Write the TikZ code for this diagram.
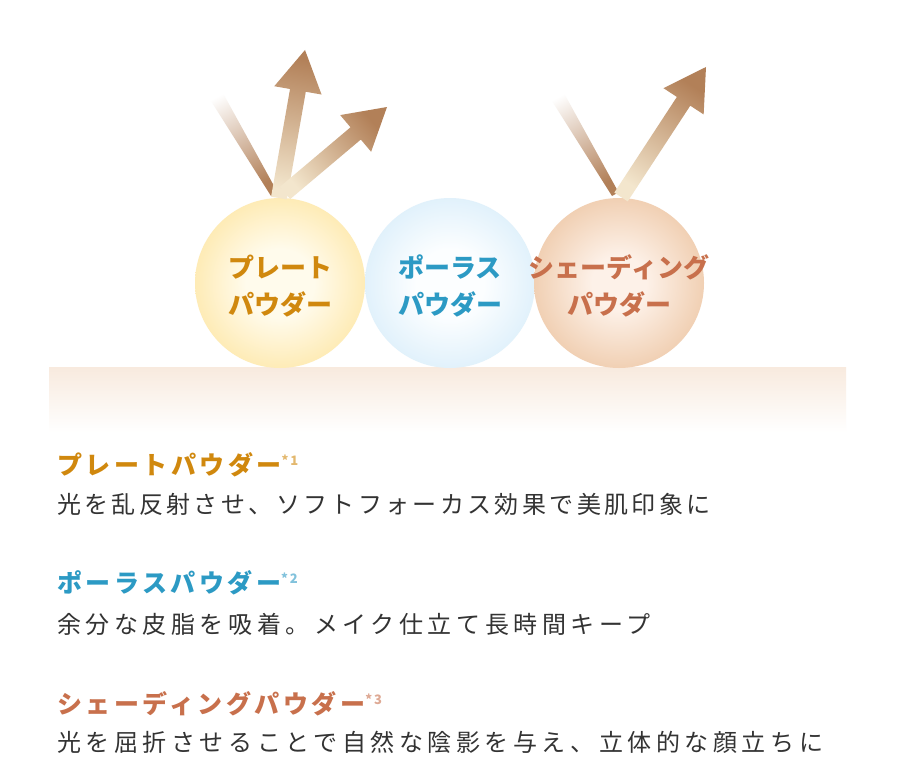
\documentclass[tikz,border=0pt]{standalone}
\usepackage{fontspec}
\setmainfont{Noto Sans CJK JP}
\usetikzlibrary{calc,positioning}
\definecolor{plategold}{RGB}{208,136,14}
\definecolor{poreblue}{RGB}{44,154,196}
\definecolor{shadecopper}{RGB}{200,112,76}
\definecolor{bodytext}{RGB}{51,51,51}
\definecolor{beamdark}{RGB}{178,128,88}
\definecolor{beamlight}{RGB}{243,230,205}
\definecolor{skintone}{RGB}{248,234,222}
% ball colours
\definecolor{plateedge}{RGB}{252,208,114}
\definecolor{platemid}{RGB}{254,230,164}
\definecolor{platecore}{RGB}{255,251,236}
\definecolor{poreedge}{RGB}{194,225,245}
\definecolor{poremid}{RGB}{216,237,250}
\definecolor{porecore}{RGB}{252,254,255}
\definecolor{shadeedge}{RGB}{222,166,120}
\definecolor{shademid}{RGB}{237,198,164}
\definecolor{shadecore}{RGB}{253,241,232}
\pgfdeclareradialshading{plateball}{\pgfpoint{0bp}{0bp}}{color(0bp)=(platecore);color(10bp)=(platecore);color(30bp)=(platemid);color(47bp)=(plateedge);color(50bp)=(plateedge)}
\pgfdeclareradialshading{poreball}{\pgfpoint{0bp}{0bp}}{color(0bp)=(porecore);color(10bp)=(porecore);color(30bp)=(poremid);color(47bp)=(poreedge);color(50bp)=(poreedge)}
\pgfdeclareradialshading{shadeball}{\pgfpoint{0bp}{0bp}}{color(0bp)=(shadecore);color(8bp)=(shadecore);color(30bp)=(shademid);color(47bp)=(shadeedge);color(50bp)=(shadeedge)}
\newcommand\bubblefont{\bfseries\fontsize{26}{37}\selectfont}
\newcommand\headfont{\bfseries\fontsize{25}{28}\selectfont\addfontfeatures{LetterSpace=14}}
\newcommand\bodyfont[1]{\fontsize{24}{28}\selectfont\addfontfeatures{LetterSpace=#1}}
\newcommand\notemark[1]{{\fontsize{13}{13}\selectfont\raisebox{9pt}{#1}}}
% reflected beam: start, tip, shading angle
\newcommand\beamarrow[3]{%
  \coordinate (#1#2base) at ($(#2)!41pt!(#1)$);
  \shade[top color=beamdark,bottom color=beamlight,shading angle=#3]
    ($(#1)!8pt!90:(#2)$) -- ($(#1#2base)!8pt!90:(#2)$) -- ($(#1#2base)!24pt!90:(#2)$)
    -- (#2) -- ($(#1#2base)!24pt!-90:(#2)$) -- ($(#1#2base)!8pt!-90:(#2)$)
    -- ($(#1)!8pt!-90:(#2)$) -- cycle;}
% incoming ray: source, hit point, shading angle
\newcommand\beamray[3]{%
  \shade[top color=white,bottom color=beamdark,shading angle=#3]
    ($(#1)!7.5pt!90:(#2)$) -- ($(#2)!7.5pt!-90:(#1)$) -- (#2) -- ($(#1)!7.5pt!-90:(#2)$) -- cycle;}

\begin{document}
\begin{tikzpicture}[x=1pt,y=-1pt,
    bubbletext/.style={font=\bubblefont,align=center,inner sep=0pt},
    headline/.style={font=\headfont,anchor=west,inner sep=0pt},
    bodyline/.style={font=\bodyfont{#1},text=bodytext,anchor=west,inner sep=0pt},
    bodyline/.default=12]
  \useasboundingbox[fill=white] (0,0) rectangle (900,760);

  % skin surface
  \shade[top color=skintone,bottom color=white] (49,367) rectangle (846,432);

  % powder balls
  \coordinate (plate) at (280,283);
  \coordinate (pore) at (450,283);
  \coordinate (shadeball) at (619,283);
  \shade[shading=plateball] (plate) circle (85);
  \shade[shading=poreball] (pore) circle (85);
  \shade[shading=shadeball] (shadeball) circle (85);

  % light on the plate powder
  \coordinate (plateSrc) at (211,87);
  \coordinate (plateHit) at (271,196);
  \coordinate (plateFoot) at (279,198);
  \coordinate (plateUp) at (305,50);
  \coordinate (plateSide) at (285,193);
  \coordinate (plateSideTip) at (387,107);
  \beamray{plateSrc}{plateHit}{28}
  \beamarrow{plateFoot}{plateUp}{-11}
  \beamarrow{plateSide}{plateSideTip}{-50}

  % light on the shading powder
  \coordinate (shadeSrc) at (552,87);
  \coordinate (shadeHit) at (612,196);
  \coordinate (shadeFoot) at (621,197);
  \coordinate (shadeTip) at (706,67);
  \beamray{shadeSrc}{shadeHit}{29}
  \beamarrow{shadeFoot}{shadeTip}{-33}

  % ball labels
  \node[bubbletext,text=plategold] (plateLabel) at ($(plate)+(0,3)$) {プレート\\パウダー};
  \node[bubbletext,text=poreblue] (poreLabel) at ($(pore)+(0,3)$) {ポーラス\\パウダー};
  \node[bubbletext,text=shadecopper] (shadeLabel) at ($(shadeball)+(0,3)$) {シェーディング\\パウダー};

  % notes
  \node[headline,text=plategold] (plateHead) at (57,465) {プレートパウダー\textcolor{plategold!60}{\notemark{*1}}};
  \node[bodyline=14,below=39pt of plateHead.west,anchor=west] (plateNote) {光を乱反射させ、ソフトフォーカス効果で美肌印象に};
  \node[headline,text=poreblue] (poreHead) at (57,583) {ポーラスパウダー\textcolor{poreblue!60}{\notemark{*2}}};
  \node[bodyline=19,below=41pt of poreHead.west,anchor=west] (poreNote) {余分な皮脂を吸着。メイク仕立て長時間キープ};
  \node[headline,text=shadecopper] (shadeHead) at (57,704) {シェーディングパウダー\textcolor{shadecopper!60}{\notemark{*3}}};
  \node[bodyline=19,below=38pt of shadeHead.west,anchor=west] (shadeNote) {光を屈折させることで自然な陰影を与え、立体的な顔立ちに};
\end{tikzpicture}
\end{document}
